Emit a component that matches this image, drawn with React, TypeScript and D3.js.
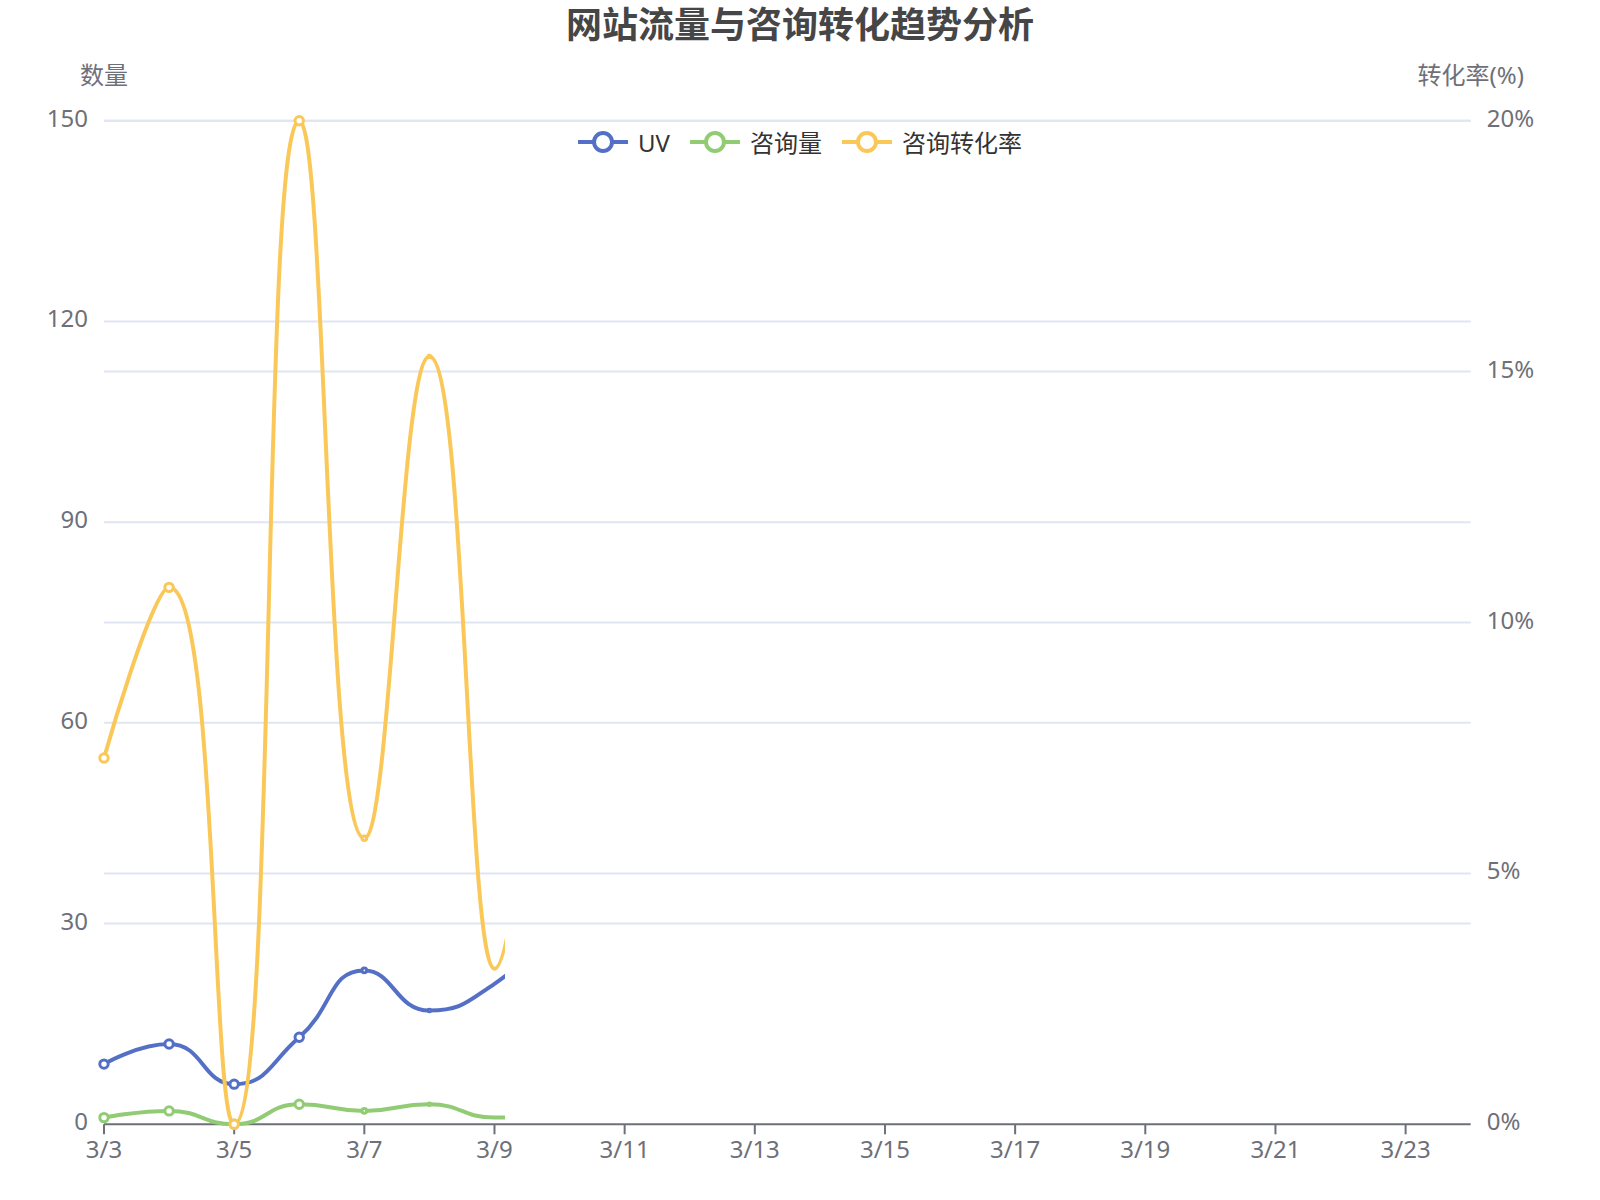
import React, { useMemo } from 'react';
import * as d3 from 'd3';

// categories on the x axis (one per day)
const dates = [
    '3/3', '3/4', '3/5', '3/6', '3/7', '3/8', '3/9', '3/10', '3/11', '3/12', '3/13',
    '3/14', '3/15', '3/16', '3/17', '3/18', '3/19', '3/20', '3/21', '3/22', '3/23', '3/24',
];
const uv = [9, 12, 6, 13, 23, 17, 21, 30];
const consult = [1, 2, 0, 3, 2, 3, 1, 2];
const rate = [7.3, 10.7, 0, 20, 5.7, 15.3, 3.1, 20];

const leftTicks = [0, 30, 60, 90, 120, 150];
const rightTicks = [0, 5, 10, 15, 20];

// the picture was taken while the line animation was still running
const drawnUpTo = 6.16;
const symbolScale = [1, 1, 1, 1, 0.55, 0.3, 0, 0];

const W = 1600;
const H = 1200;
const grid = { left: 104, right: 1470.7, top: 120.7, bottom: 1124.3 };
const FONT = "'Noto Sans', 'Noto Sans CJK SC', sans-serif";
const AXIS_COLOR = '#6E7079';
const SPLIT_COLOR = '#E0E6F1';

const series = [
    { name: 'UV', values: uv, color: '#5470c6', axis: 'left' },
    { name: '咨询量', values: consult, color: '#91cc75', axis: 'left' },
    { name: '咨询转化率', values: rate, color: '#fac858', axis: 'right' },
];

// echarts' smooth line (smooth = 0.5) as a d3 curve
const echartsSmooth = (smooth: number) => (context: any) => {
    let pts: [number, number][] = [];
    return {
        areaStart() {},
        areaEnd() {},
        lineStart() {
            pts = [];
        },
        point(x: number, y: number) {
            pts.push([x, y]);
        },
        lineEnd() {
            const n = pts.length;
            if (!n) return;
            context.moveTo(pts[0][0], pts[0][1]);
            let cpx0 = pts[0][0];
            let cpy0 = pts[0][1];
            for (let k = 1; k < n; k++) {
                const [x, y] = pts[k];
                const [px, py] = pts[k - 1];
                let cpx1 = x;
                let cpy1 = y;
                let ncx = x;
                let ncy = y;
                if (k < n - 1) {
                    const [nx, ny] = pts[k + 1];
                    let vx = nx - px;
                    let vy = ny - py;
                    const lp = Math.hypot(x - px, y - py);
                    const ln = Math.hypot(nx - x, ny - y);
                    const r = ln / (ln + lp);
                    ncx = x + vx * smooth * r;
                    ncy = y + vy * smooth * r;
                    ncx = Math.max(Math.min(ncx, Math.max(nx, x)), Math.min(nx, x));
                    ncy = Math.max(Math.min(ncy, Math.max(ny, y)), Math.min(ny, y));
                    vx = ncx - x;
                    vy = ncy - y;
                    cpx1 = x - (vx * lp) / ln;
                    cpy1 = y - (vy * lp) / ln;
                    cpx1 = Math.max(Math.min(cpx1, Math.max(px, x)), Math.min(px, x));
                    cpy1 = Math.max(Math.min(cpy1, Math.max(py, y)), Math.min(py, y));
                    vx = x - cpx1;
                    vy = y - cpy1;
                    ncx = x + (vx * ln) / lp;
                    ncy = y + (vy * ln) / lp;
                }
                context.bezierCurveTo(cpx0, cpy0, cpx1, cpy1, x, y);
                cpx0 = ncx;
                cpy0 = ncy;
            }
        },
    };
};

const measure = (text: string, size: number) => {
    const ctx = document.createElement('canvas').getContext('2d');
    if (!ctx) return text.length * size;
    ctx.font = `${size}px ${FONT}`;
    return ctx.measureText(text).width;
};

const App = () => {
    const x = d3.scalePoint<string>().domain(dates).range([grid.left, grid.right]);
    const yL = d3.scaleLinear().domain([0, 150]).range([grid.bottom, grid.top]);
    const yR = d3.scaleLinear().domain([0, 20]).range([grid.bottom, grid.top]);
    const step = x.step();
    const clipX = grid.left + drawnUpTo * step;

    const line = (vals: number[], scale: d3.ScaleLinear<number, number>) =>
        d3
            .line<number>()
            .x((_, i) => x(dates[i]) as number)
            .y(d => scale(d))
            .curve(echartsSmooth(0.5) as any)(vals) || '';

    const legend = useMemo(() => {
        const iconW = 50;
        const gap = 20;
        const items = series.map(s => ({ ...s, tw: measure(s.name, 24) }));
        const total =
            items.reduce((a, it) => a + iconW + 10 + it.tw, 0) + gap * (items.length - 1);
        let cx = W / 2 - total / 2;
        return items.map(it => {
            const pos = { ...it, x0: cx };
            cx += iconW + 10 + it.tw + gap;
            return pos;
        });
    }, []);

    return (
        <svg
            width={W}
            height={H}
            style={{ position: 'absolute', left: 0, top: 0, background: '#fff' }}
            fontFamily={FONT}
        >
            <defs>
                <clipPath id='anim-clip'>
                    <rect x={0} y={0} width={clipX} height={H} />
                </clipPath>
            </defs>
            <text x={W / 2} y={38} textAnchor='middle' fontSize={36} fontWeight='bold' fill='#464646'>
                网站流量与咨询转化趋势分析
            </text>

            {/* split lines */}
            {leftTicks.slice(1).map(t => (
                <line key={'l' + t} x1={grid.left} x2={grid.right} y1={yL(t)} y2={yL(t)} stroke={SPLIT_COLOR} strokeWidth={2} />
            ))}
            {rightTicks.slice(1).map(t => (
                <line key={'r' + t} x1={grid.left} x2={grid.right} y1={yR(t)} y2={yR(t)} stroke={SPLIT_COLOR} strokeWidth={2} />
            ))}

            {/* axis labels */}
            {leftTicks.map(t => (
                <text key={'lt' + t} x={grid.left - 16} y={yL(t) + 6} textAnchor='end' fontSize={24} fill={AXIS_COLOR}>
                    {t}
                </text>
            ))}
            {rightTicks.map(t => (
                <text key={'rt' + t} x={grid.right + 16} y={yR(t) + 6} textAnchor='start' fontSize={24} fill={AXIS_COLOR}>
                    {t}%
                </text>
            ))}
            <text x={grid.left} y={84} textAnchor='middle' fontSize={24} fill={AXIS_COLOR}>
                数量
            </text>
            <text x={grid.right} y={84} textAnchor='middle' fontSize={24} fill={AXIS_COLOR}>
                转化率(%)
            </text>

            {/* x axis */}
            <line x1={grid.left} x2={grid.right} y1={grid.bottom} y2={grid.bottom} stroke={AXIS_COLOR} strokeWidth={2} />
            {dates.map((d, i) =>
                i % 2 === 0 ? (
                    <g key={d}>
                        <line x1={x(d)} x2={x(d)} y1={grid.bottom} y2={grid.bottom + 10} stroke={AXIS_COLOR} strokeWidth={2} />
                        <text x={x(d)} y={grid.bottom + 34} textAnchor='middle' fontSize={24} fill={AXIS_COLOR}>
                            {d}
                        </text>
                    </g>
                ) : null
            )}

            {/* series */}
            <g clipPath='url(#anim-clip)'>
                {series.map(s => {
                    const scale = s.axis === 'left' ? yL : yR;
                    return (
                        <path key={s.name} d={line(s.values, scale)} fill='none' stroke={s.color} strokeWidth={4} />
                    );
                })}
            </g>
            {series.map(s => {
                const scale = s.axis === 'left' ? yL : yR;
                return (
                    <g key={s.name + '-sym'}>
                        {s.values.map((v, i) =>
                            symbolScale[i] > 0 ? (
                                <circle
                                    key={i}
                                    cx={x(dates[i])}
                                    cy={scale(v)}
                                    r={4.2 * symbolScale[i]}
                                    fill='#fff'
                                    stroke={s.color}
                                    strokeWidth={3}
                                />
                            ) : null
                        )}
                    </g>
                );
            })}

            {/* legend */}
            {legend.map(it => (
                <g key={it.name + '-lg'}>
                    <line x1={it.x0} x2={it.x0 + 50} y1={142} y2={142} stroke={it.color} strokeWidth={4} />
                    <circle cx={it.x0 + 25} cy={142} r={9} fill='#fff' stroke={it.color} strokeWidth={4} />
                    <text x={it.x0 + 60} y={142} dominantBaseline='central' fontSize={24} fill='#333'>
                        {it.name}
                    </text>
                </g>
            ))}
        </svg>
    );
};

export default App;
